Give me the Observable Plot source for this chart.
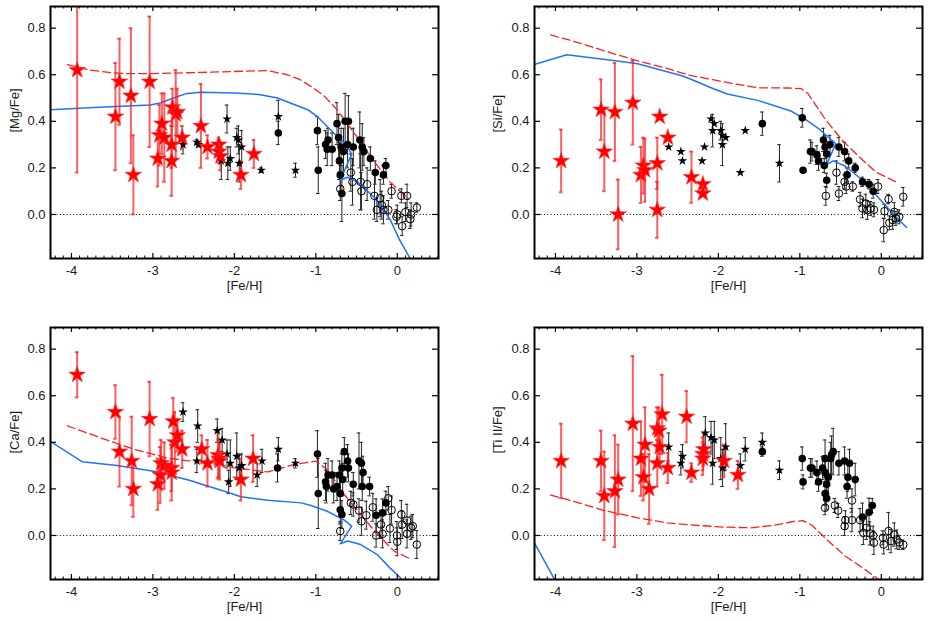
<!DOCTYPE html>
<html><head><meta charset="utf-8">
<script src="https://cdn.jsdelivr.net/npm/d3@7"></script>
<script src="https://cdn.jsdelivr.net/npm/@observablehq/plot@0.6"></script>
<style>
body{margin:0;background:#fff;}
#wrap{position:relative;width:929px;height:621px;}
#wrap svg{position:absolute;}
</style></head><body><div id="wrap"></div>
<script>
// ---- tick values ----
const xMajor = [-4, -3, -2, -1, 0];
const yMajor = [0, 0.2, 0.4, 0.6, 0.8];
const xMinor = [-4.2,-4.1,-3.9,-3.8,-3.7,-3.6,-3.5,-3.4,-3.3,-3.2,-3.1,-2.9,-2.8,-2.7,-2.6,-2.5,-2.4,-2.3,-2.2,-2.1,-1.9,-1.8,-1.7,-1.6,-1.5,-1.4,-1.3,-1.2,-1.1,-0.9,-0.8,-0.7,-0.6,-0.5,-0.4,-0.3,-0.2,-0.1,0.1,0.2,0.3,0.4,0.5];
const xDomain = [-4.257, 0.506];
const yDomain = [-0.189, 0.893];

// ---- [Mg/Fe] ---- [Fe/H], value, error
const mgRed = [[-3.93,0.62,0.44],[-3.46,0.42,0.23],[-3.41,0.57,0.185],[-3.27,0.51,0.29],[-3.24,0.17,0.17],[-3.04,0.57,0.28],[-2.94,0.24,0.12],[-2.92,0.34,0.13],[-2.89,0.39,0.13],[-2.86,0.33,0.19],[-2.77,0.23,0.15],[-2.77,0.30,0.10],[-2.76,0.46,0.08],[-2.72,0.43,0.19],[-2.70,0.44,0.10],[-2.64,0.33,0.05],[-2.41,0.38,0.18],[-2.33,0.29,0.05],[-2.19,0.30,0.03],[-2.19,0.27,0.05],[-2.17,0.25,0.06],[-1.92,0.17,0.06],[-1.76,0.26,0.06]];
const mgStar = [[-2.63,0.30,0.04],[-2.46,0.31,0.01],[-2.44,0.30,0.01],[-2.16,0.23,0.08],[-2.09,0.41,0.06],[-2.05,0.24,0.05],[-2.08,0.22,0.07],[-1.97,0.33,0.04],[-1.95,0.32,0.06],[-1.91,0.29,0.07],[-1.94,0.22,0.08],[-1.67,0.19,0.01],[-1.46,0.42,0.07],[-1.25,0.19,0.03]];
const mgFilled = [[-1.46,0.35,0.05],[-0.98,0.36,0.06],[-0.97,0.19,0.10],[-0.88,0.30,0.06],[-0.86,0.28,0.07],[-0.85,0.32,0.05],[-0.80,0.28,0.07],[-0.74,0.39,0.09],[-0.72,0.33,0.10],[-0.71,0.23,0.08],[-0.70,0.17,0.07],[-0.68,0.09,0.12],[-0.69,0.29,0.08],[-0.66,0.27,0.10],[-0.64,0.40,0.12],[-0.60,0.40,0.11],[-0.61,0.30,0.10],[-0.54,0.29,0.08],[-0.46,0.32,0.12],[-0.43,0.29,0.10],[-0.41,0.27,0.06],[-0.33,0.24,0.05],[-0.27,0.18,0.05],[-0.17,0.17,0.04],[-0.14,0.21,0.03]];
const mgOpen = [[-0.70,0.11,0.05],[-0.57,0.18,0.08],[-0.55,0.14,0.10],[-0.45,0.14,0.12],[-0.44,0.10,0.08],[-0.37,0.13,0.07],[-0.28,0.08,0.10],[-0.21,0.07,0.08],[-0.19,0.04,0.06],[-0.25,0.02,0.05],[-0.17,0.02,0.06],[-0.11,0.02,0.04],[-0.07,0.10,0.03],[0.00,0.00,0.04],[-0.01,-0.01,0.03],[0.05,0.08,0.03],[0.06,-0.05,0.04],[0.10,0.01,0.04],[0.12,0.08,0.05],[0.16,-0.02,0.04],[0.17,0.00,0.05],[0.24,0.03,0.02]];
const mgBlue = [[-4.26,0.45],[-3.6,0.462],[-3.03,0.47],[-2.9,0.48],[-2.75,0.50],[-2.6,0.518],[-2.42,0.525],[-2.0,0.522],[-1.7,0.515],[-1.47,0.50],[-1.25,0.47],[-1.10,0.45],[-0.98,0.42],[-0.78,0.35],[-0.63,0.30],[-0.56,0.26],[-0.70,0.147],[-0.61,0.16],[-0.49,0.14],[-0.29,0.076],[-0.09,-0.02],[0.03,-0.11],[0.16,-0.19],[0.2,-0.23]];
const mgDash = [[-4.05,0.643],[-3.77,0.62],[-3.5,0.608],[-3.32,0.605],[-3.0,0.605],[-2.42,0.61],[-2.0,0.614],[-1.59,0.618],[-1.35,0.60],[-1.2,0.58],[-1.06,0.55],[-0.90,0.51],[-0.74,0.45],[-0.53,0.35],[-0.29,0.23],[-0.09,0.14],[0.14,0.066]];

// ---- [Si/Fe] ----
const siRed = [[-3.93,0.23,0.135],[-3.44,0.45,0.13],[-3.40,0.27,0.17],[-3.27,0.44,0.21],[-3.23,0.0,0.15],[-3.05,0.48,0.18],[-2.95,0.17,0.12],[-2.92,0.21,0.12],[-2.90,0.19,0.135],[-2.75,0.22,0.11],[-2.75,0.02,0.12],[-2.72,0.42,0],[-2.62,0.33,0],[-2.33,0.16,0.11],[-2.19,0.13,0],[-2.19,0.09,0]];
const siStar = [[-2.61,0.29,0],[-2.46,0.27,0],[-2.44,0.23,0],[-2.20,0.23,0],[-2.17,0.29,0],[-2.09,0.41,0],[-2.07,0.36,0.07],[-2.05,0.39,0],[-1.97,0.36,0.04],[-1.95,0.34,0],[-1.95,0.30,0.09],[-1.91,0.33,0],[-1.73,0.18,0],[-1.67,0.36,0],[-1.25,0.22,0.08]];
const siFilled = [[-1.46,0.39,0.05],[-0.97,0.415,0.04],[-0.96,0.19,0],[-0.87,0.27,0.05],[-0.85,0.27,0.04],[-0.79,0.255,0.04],[-0.77,0.23,0.04],[-0.71,0.32,0.05],[-0.69,0.29,0.05],[-0.67,0.26,0.04],[-0.70,0.21,0.03],[-0.67,0.147,0.03],[-0.63,0.30,0.04],[-0.52,0.29,0.04],[-0.45,0.27,0.04],[-0.40,0.23,0.03],[-0.42,0.17,0.03],[-0.32,0.20,0.02],[-0.23,0.14,0.02],[-0.15,0.13,0.02],[-0.10,0.10,0.03]];
const siOpen = [[-0.55,0.18,0.05],[-0.68,0.08,0.04],[-0.52,0.09,0.03],[-0.45,0.14,0.03],[-0.43,0.12,0.03],[-0.35,0.12,0.02],[-0.26,0.065,0.03],[-0.23,0.026,0.04],[-0.19,0.047,0.04],[-0.17,0.019,0.04],[-0.13,0.026,0.03],[-0.09,0.02,0.03],[-0.04,0.12,0.03],[0.04,0.014,0.03],[0.03,-0.067,0.05],[0.09,0.066,0.02],[0.14,-0.024,0.04],[0.16,0.011,0.04],[0.18,-0.017,0.03],[0.22,-0.01,0.03],[0.27,0.076,0.04],[0.10,-0.036,0.03]];
const siBlue = [[-4.26,0.644],[-3.86,0.686],[-3.24,0.659],[-2.99,0.647],[-2.46,0.597],[-2.35,0.583],[-2.06,0.54],[-1.89,0.517],[-1.52,0.49],[-1.1,0.443],[-0.94,0.41],[-0.77,0.369],[-0.56,0.304],[-0.67,0.214],[-0.59,0.23],[-0.44,0.207],[-0.23,0.147],[-0.025,0.069],[0.14,0.004],[0.31,-0.056]];
const siDash = [[-4.06,0.771],[-3.81,0.747],[-3.28,0.69],[-2.99,0.66],[-2.62,0.626],[-2.35,0.597],[-1.93,0.569],[-1.52,0.544],[-1.15,0.543],[-0.98,0.54],[-0.90,0.519],[-0.69,0.41],[-0.48,0.319],[-0.27,0.247],[-0.07,0.183],[0.18,0.14]];

// ---- [Ca/Fe] ----
const caRed = [[-3.93,0.69,0.097],[-3.46,0.53,0.115],[-3.41,0.36,0.15],[-3.26,0.32,0.19],[-3.24,0.20,0.12],[-3.04,0.50,0.16],[-2.94,0.22,0.11],[-2.91,0.26,0.12],[-2.90,0.31,0.10],[-2.86,0.30,0.10],[-2.77,0.29,0.10],[-2.77,0.27,0.12],[-2.75,0.49,0.10],[-2.73,0.40,0.13],[-2.70,0.43,0.07],[-2.64,0.37,0.08],[-2.40,0.37,0.06],[-2.33,0.31,0.10],[-2.20,0.345,0.10],[-2.19,0.33,0.08],[-2.18,0.32,0.08],[-1.92,0.24,0.09],[-1.77,0.33,0.10]];
const caStar = [[-2.63,0.53,0.04],[-2.45,0.47,0.07],[-2.46,0.32,0.05],[-2.21,0.45,0.05],[-2.15,0.41,0.05],[-2.09,0.35,0.06],[-2.05,0.31,0.10],[-2.07,0.23,0.05],[-1.97,0.34,0.10],[-1.94,0.29,0.06],[-1.91,0.30,0.05],[-1.72,0.26,0.05],[-1.66,0.32,0.05],[-1.46,0.37,0.05],[-1.25,0.31,0.02]];
const caFilled = [[-1.47,0.29,0.06],[-0.98,0.35,0.10],[-0.97,0.18,0.15],[-0.88,0.23,0.08],[-0.87,0.21,0.07],[-0.85,0.26,0.07],[-0.80,0.26,0.06],[-0.78,0.20,0.06],[-0.74,0.21,0.06],[-0.70,0.18,0.08],[-0.70,0.11,0.06],[-0.68,0.09,0.06],[-0.71,0.26,0.06],[-0.68,0.29,0.06],[-0.67,0.24,0.07],[-0.65,0.36,0.06],[-0.61,0.32,0.07],[-0.60,0.29,0.06],[-0.54,0.22,0.05],[-0.47,0.32,0.12],[-0.44,0.31,0.09],[-0.42,0.27,0.07],[-0.43,0.21,0.06],[-0.34,0.21,0.04],[-0.26,0.087,0.07],[-0.18,0.097,0.06],[-0.14,0.14,0.05]];
const caOpen = [[-0.70,0.019,0.04],[-0.57,0.14,0.05],[-0.54,0.133,0.05],[-0.47,0.107,0.05],[-0.44,0.061,0.06],[-0.38,0.087,0.06],[-0.30,0.121,0.06],[-0.26,0.0,0.05],[-0.20,0.047,0.06],[-0.18,0.007,0.06],[-0.11,0.16,0.05],[-0.09,0.03,0.06],[-0.07,0.109,0.06],[-0.004,0.0,0.06],[0.0,-0.027,0.06],[0.05,0.09,0.06],[0.06,0.047,0.06],[0.12,0.064,0.07],[0.12,0.007,0.06],[0.17,0.033,0.05],[0.19,0.04,0.05],[0.24,-0.039,0.06]];
const caBlue = [[-4.26,0.404],[-3.87,0.317],[-3.44,0.30],[-2.99,0.276],[-2.54,0.236],[-2.41,0.221],[-2.12,0.19],[-1.92,0.166],[-1.59,0.151],[-1.18,0.14],[-1.06,0.129],[-0.86,0.104],[-0.65,0.066],[-0.56,0.04],[-0.70,-0.036],[-0.61,-0.024],[-0.45,-0.039],[-0.25,-0.081],[-0.09,-0.139],[0.06,-0.189],[0.1,-0.22]];
const caDash = [[-4.05,0.471],[-3.64,0.419],[-3.24,0.371],[-2.83,0.333],[-2.58,0.321],[-2.34,0.319],[-2.0,0.29],[-1.59,0.273],[-1.27,0.304],[-1.0,0.319],[-0.86,0.283],[-0.65,0.176],[-0.45,0.09],[-0.24,0.004],[-0.04,-0.067],[0.16,-0.1]];

// ---- [Ti II/Fe] ----
const tiRed = [[-3.93,0.32,0.16],[-3.44,0.32,0.13],[-3.40,0.17,0.19],[-3.27,0.19,0.24],[-3.23,0.24,0.15],[-3.05,0.48,0.29],[-2.95,0.33,0.16],[-2.92,0.25,0.10],[-2.90,0.39,0.16],[-2.85,0.20,0.15],[-2.75,0.46,0.09],[-2.75,0.31,0.10],[-2.73,0.45,0.10],[-2.72,0.38,0.08],[-2.69,0.52,0.17],[-2.62,0.29,0.065],[-2.39,0.51,0.11],[-2.33,0.27,0.04],[-2.19,0.35,0.07],[-2.19,0.33,0.07],[-2.18,0.37,0.07],[-1.93,0.32,0.07],[-1.76,0.26,0.06]];
const tiStar = [[-2.61,0.38,0.06],[-2.46,0.31,0.05],[-2.44,0.34,0.05],[-2.16,0.44,0.07],[-2.09,0.42,0.07],[-2.05,0.41,0.08],[-2.07,0.31,0.09],[-1.97,0.33,0.09],[-1.95,0.29,0.08],[-1.91,0.38,0.10],[-1.73,0.30,0.05],[-1.67,0.37,0.05],[-1.46,0.40,0.04],[-1.25,0.28,0.04]];
const tiFilled = [[-1.46,0.36,0.02],[-0.97,0.33,0.05],[-0.96,0.23,0.03],[-0.87,0.29,0.04],[-0.85,0.29,0.04],[-0.79,0.27,0.05],[-0.77,0.23,0.04],[-0.72,0.29,0.05],[-0.69,0.33,0.08],[-0.69,0.27,0.06],[-0.65,0.25,0.07],[-0.67,0.22,0.05],[-0.69,0.18,0.05],[-0.67,0.16,0.05],[-0.61,0.347,0.08],[-0.59,0.36,0.10],[-0.62,0.33,0.07],[-0.52,0.31,0.05],[-0.45,0.32,0.06],[-0.39,0.31,0.06],[-0.41,0.25,0.06],[-0.42,0.21,0.05],[-0.32,0.24,0.07],[-0.23,0.079,0.06],[-0.15,0.10,0.06],[-0.11,0.129,0.03]];
const tiOpen = [[-0.69,0.119,0.03],[-0.57,0.129,0.03],[-0.53,0.107,0.03],[-0.36,0.15,0.05],[-0.44,0.066,0.04],[-0.45,0.04,0.04],[-0.36,0.066,0.05],[-0.26,0.066,0.05],[-0.22,0.011,0.05],[-0.18,0.033,0.05],[-0.14,0.009,0.05],[-0.09,-0.031,0.05],[-0.10,0.0,0.04],[0.02,-0.01,0.03],[0.03,-0.039,0.04],[0.09,0.019,0.08],[0.12,-0.024,0.05],[0.16,0.004,0.05],[0.19,-0.017,0.04],[0.22,-0.03,0.03],[0.27,-0.04,0.02]];
const tiBlue = [[-4.26,-0.031],[-4.01,-0.189],[-3.9,-0.26]];
const tiDash = [[-4.06,0.173],[-3.81,0.15],[-3.40,0.107],[-2.99,0.076],[-2.62,0.054],[-2.29,0.044],[-1.93,0.036],[-1.60,0.033],[-1.31,0.044],[-1.10,0.059],[-0.96,0.064],[-0.85,0.044],[-0.65,-0.024],[-0.44,-0.089],[-0.23,-0.139],[-0.03,-0.189],[0.1,-0.22]];

const panels = [
  {label:"[Mg/Fe]", red:mgRed, star:mgStar, filled:mgFilled, open:mgOpen, blue:mgBlue, dash:mgDash, left:0, top:0, width:464, height:310, mL:50, mR:26, mT:6, mB:52, ldx:-36},
  {label:"[Si/Fe]", red:siRed, star:siStar, filled:siFilled, open:siOpen, blue:siBlue, dash:siDash, left:464, top:0, width:465, height:310, mL:70, mR:7, mT:6, mB:52, ldx:-37},
  {label:"[Ca/Fe]", red:caRed, star:caStar, filled:caFilled, open:caOpen, blue:caBlue, dash:caDash, left:0, top:310, width:464, height:311, mL:50, mR:26, mT:17, mB:42, ldx:-36},
  {label:"[Ti II/Fe]", red:tiRed, star:tiStar, filled:tiFilled, open:tiOpen, blue:tiBlue, dash:tiDash, left:464, top:310, width:465, height:311, mL:70, mR:7, mT:17, mB:42, ldx:-37}
];

const toObj = a => a.map(([x, y, e]) => ({x, y, e}));
const CAP = 0.022;

function errorMarks(data, stroke, opts) {
  const d = data.filter(p => p.e > 0);
  return [
    Plot.ruleX(d, {x: "x", y1: p => p.y - p.e, y2: p => p.y + p.e, stroke, clip: true, ...opts}),
    Plot.ruleY(d, {y: p => p.y + p.e, x1: p => p.x - CAP, x2: p => p.x + CAP, stroke, clip: true, ...opts}),
    Plot.ruleY(d, {y: p => p.y - p.e, x1: p => p.x - CAP, x2: p => p.x + CAP, stroke, clip: true, ...opts})
  ];
}

const wrap = document.getElementById("wrap");
for (const p of panels) {
  const pH = p.height - p.mT - p.mB;
  const pW = p.width - p.mL - p.mR;
  const red = toObj(p.red), star = toObj(p.star), filled = toObj(p.filled), open = toObj(p.open);
  const chart = Plot.plot({
    width: p.width, height: p.height,
    marginLeft: p.mL, marginRight: p.mR, marginTop: p.mT, marginBottom: p.mB,
    x: {domain: xDomain},
    y: {domain: yDomain},
    style: {fontFamily: "'Liberation Sans', Arial, sans-serif", fontSize: "13px", color: "#1a1a1a", background: "transparent", overflow: "visible"},
    marks: [
      Plot.ruleY([0], {stroke: "#000", strokeWidth: 1, strokeDasharray: "1,2.3"}),
      ...errorMarks(filled.concat(open, star), "#222", {strokeWidth: 1}),
      Plot.line(p.dash, {x: d => d[0], y: d => d[1], stroke: "#ff2020", strokeWidth: 1.3, strokeDasharray: "8,4", clip: true}),
      Plot.line(p.blue, {x: d => d[0], y: d => d[1], stroke: "#1f73ff", strokeWidth: 1.5, clip: true}),
      ...errorMarks(red, "#ff1a1a", {strokeWidth: 2, strokeOpacity: 0.7}),
      Plot.dot(open, {x: "x", y: "y", r: 3.8, stroke: "#000", strokeWidth: 1, fill: "none", clip: true}),
      Plot.dot(filled, {x: "x", y: "y", r: 3.8, fill: "#000", stroke: "none", clip: true}),
      Plot.dot(star, {x: "x", y: "y", symbol: "star", r: 3, fill: "#000", stroke: "none", clip: true}),
      Plot.dot(red, {x: "x", y: "y", symbol: "star", r: 5.2, fill: "#ff0000", stroke: "#ff3333", strokeWidth: 0.6, clip: true}),
      Plot.frame({stroke: "#000", strokeWidth: 2}),
      Plot.tickX(xMajor, {x: d => d, insetTop: pH - 5, stroke: "#000", strokeWidth: 1.2}),
      Plot.tickX(xMinor, {x: d => d, insetTop: pH - 2.5, stroke: "#000", strokeWidth: 1}),
      Plot.tickX(xMajor, {x: d => d, insetBottom: pH - 5, stroke: "#000", strokeWidth: 1.2}),
      Plot.tickX(xMinor, {x: d => d, insetBottom: pH - 2.5, stroke: "#000", strokeWidth: 1}),
      Plot.tickY(yMajor, {y: d => d, insetRight: pW - 6, stroke: "#000", strokeWidth: 1.2}),
      Plot.tickY(yMajor, {y: d => d, insetLeft: pW - 6, stroke: "#000", strokeWidth: 1.2}),
      Plot.axisX({ticks: xMajor, tickSize: 0, tickPadding: 7, tickFormat: d => String(d), fontSize: 13, label: null}),
      Plot.axisY({ticks: yMajor, tickSize: 0, tickPadding: 5, tickFormat: d => d.toFixed(1), fontSize: 13, label: null}),
      Plot.text([p.label], {frameAnchor: "left", rotate: -90, dx: p.ldx, fontSize: 13}),
      Plot.text(["[Fe/H]"], {frameAnchor: "bottom", dy: 31, fontSize: 13})
    ]
  });
  chart.style.left = p.left + "px";
  chart.style.top = p.top + "px";
  wrap.appendChild(chart);
}
</script>
</body></html>
